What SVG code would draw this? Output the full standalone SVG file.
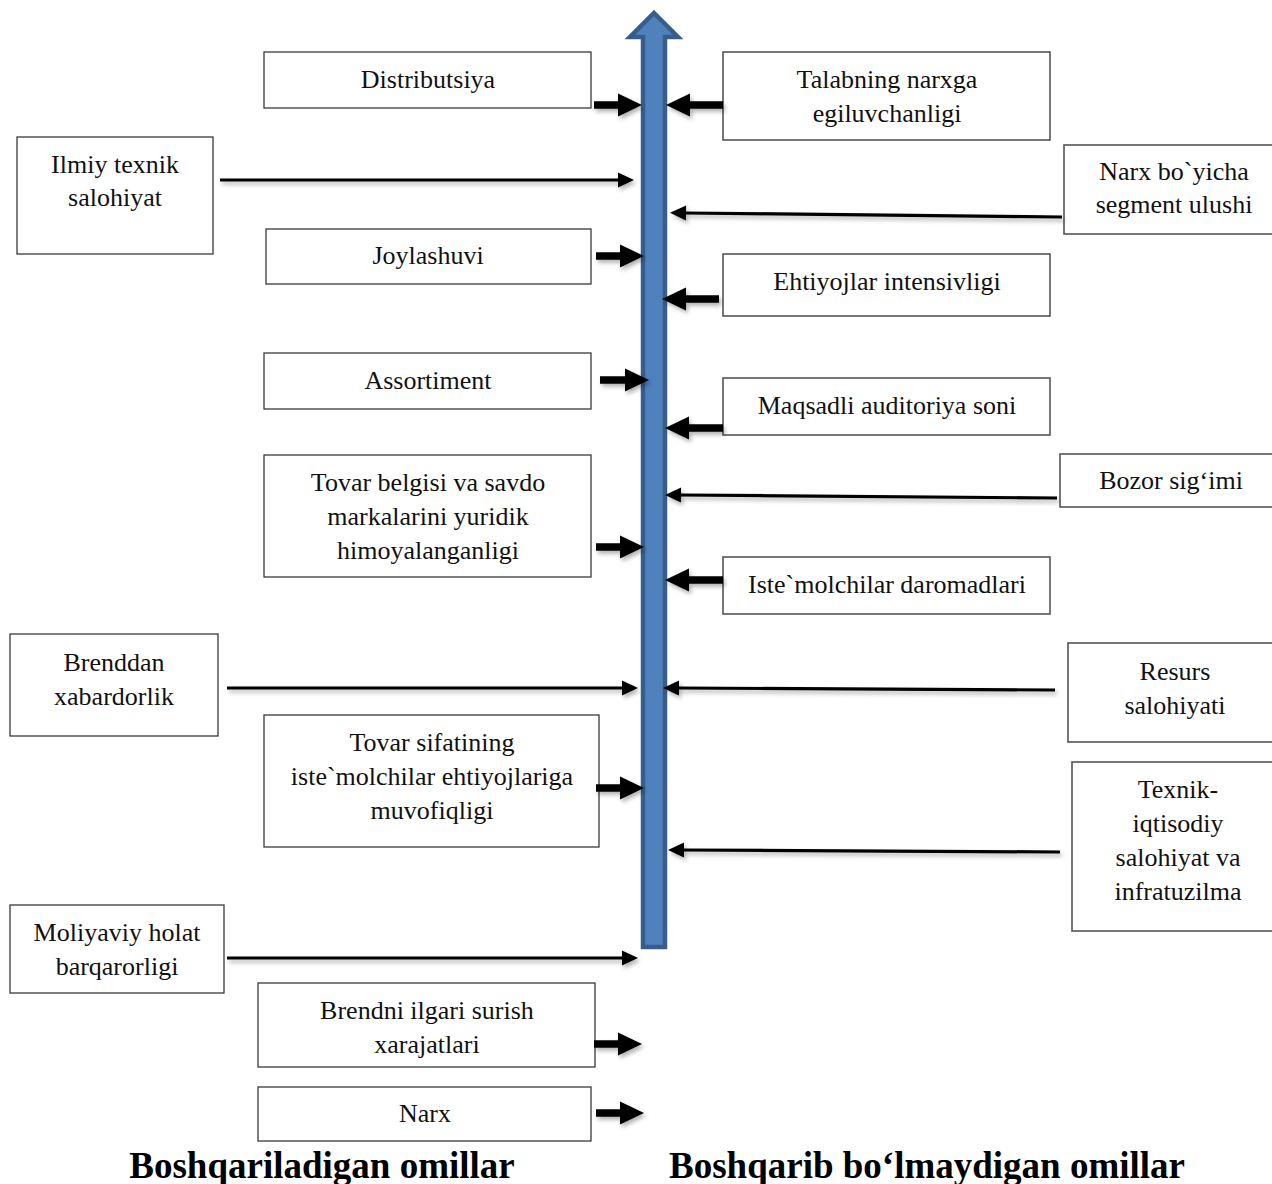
<svg xmlns="http://www.w3.org/2000/svg" width="1272" height="1184" viewBox="0 0 1272 1184">
  <style>
    .box { fill: #ffffff; stroke: #3a3a3a; stroke-width: 1.3; }
    .boxr { fill: #ffffff; stroke: #555555; stroke-width: 1.6; }
    .lbl { font-family: "Liberation Serif", "Times New Roman", serif; font-size: 26px; fill: #111111; text-anchor: middle; }
    .title { font-family: "Liberation Serif", "Times New Roman", serif; font-size: 37px; font-weight: bold; fill: #000000; text-anchor: middle; }
    .thick { stroke: #000000; stroke-width: 7.5; fill: none; marker-end: url(#headThick); }
    .thin { stroke: #000000; stroke-width: 3.2; fill: none; marker-end: url(#headThin); }
  </style>
  <defs>
    <marker id="headThick" markerUnits="userSpaceOnUse" markerWidth="26" markerHeight="24" refX="0" refY="0" orient="auto" overflow="visible">
      <path d="M-1,-11.5 L23,0 L-1,11.5 Z" fill="#000000"/>
    </marker>
    <marker id="headThin" markerUnits="userSpaceOnUse" markerWidth="18" markerHeight="16" refX="0" refY="0" orient="auto" overflow="visible">
      <path d="M-1,-7.5 L15,0 L-1,7.5 Z" fill="#000000"/>
    </marker>
    <filter id="shadow" x="-10%" y="-50%" width="120%" height="200%">
      <feDropShadow dx="2" dy="3" stdDeviation="2" flood-color="#000000" flood-opacity="0.3"/>
    </filter>
  </defs>

  <rect width="1272" height="1184" fill="#ffffff"/>

  <!-- central axis arrow -->
  <g id="axis">
    <polygon points="654,13 678,37 665,37 665,947 643,947 643,37 630,37" fill="#4F81BD" stroke="#385D8A" stroke-width="4.5" stroke-linejoin="miter"/>
  </g>

  <!-- controllable factors (left) -->
  <g id="n-distributsiya">
    <rect class="box" x="264" y="52" width="327" height="56"/>
    <text class="lbl" x="428" y="88">Distributsiya</text>
  </g>
  <g id="n-ilmiy">
    <rect class="box" x="17" y="137" width="196" height="117"/>
    <text class="lbl" x="115" y="173">Ilmiy texnik</text>
    <text class="lbl" x="115" y="206">salohiyat</text>
  </g>
  <g id="n-joylashuvi">
    <rect class="box" x="266" y="229" width="325" height="55"/>
    <text class="lbl" x="428" y="264">Joylashuvi</text>
  </g>
  <g id="n-assortiment">
    <rect class="box" x="264" y="353" width="327" height="56"/>
    <text class="lbl" x="428" y="389">Assortiment</text>
  </g>
  <g id="n-tovar-belgisi">
    <rect class="box" x="264" y="455" width="327" height="122"/>
    <text class="lbl" x="428" y="491">Tovar belgisi va savdo</text>
    <text class="lbl" x="428" y="525">markalarini yuridik</text>
    <text class="lbl" x="428" y="559">himoyalanganligi</text>
  </g>
  <g id="n-brenddan">
    <rect class="box" x="10" y="634" width="208" height="102"/>
    <text class="lbl" x="114" y="671">Brenddan</text>
    <text class="lbl" x="114" y="705">xabardorlik</text>
  </g>
  <g id="n-tovar-sifati">
    <rect class="box" x="264" y="715" width="335" height="132"/>
    <text class="lbl" x="432" y="751">Tovar sifatining</text>
    <text class="lbl" x="432" y="785">iste`molchilar ehtiyojlariga</text>
    <text class="lbl" x="432" y="819">muvofiqligi</text>
  </g>
  <g id="n-moliyaviy">
    <rect class="box" x="10" y="905" width="214" height="88"/>
    <text class="lbl" x="117" y="941">Moliyaviy holat</text>
    <text class="lbl" x="117" y="975">barqarorligi</text>
  </g>
  <g id="n-brendni">
    <rect class="box" x="258" y="983" width="337" height="84"/>
    <text class="lbl" x="427" y="1019">Brendni ilgari surish</text>
    <text class="lbl" x="427" y="1053">xarajatlari</text>
  </g>
  <g id="n-narx">
    <rect class="box" x="258" y="1087" width="333" height="54"/>
    <text class="lbl" x="425" y="1122">Narx</text>
  </g>

  <!-- uncontrollable factors (right) -->
  <g id="n-talabning">
    <rect class="boxr" x="723" y="52" width="327" height="88"/>
    <text class="lbl" x="887" y="88">Talabning narxga</text>
    <text class="lbl" x="887" y="122">egiluvchanligi</text>
  </g>
  <g id="n-narx-segment">
    <rect class="boxr" x="1064" y="145" width="212" height="89"/>
    <text class="lbl" x="1174" y="180">Narx bo`yicha</text>
    <text class="lbl" x="1174" y="213">segment ulushi</text>
  </g>
  <g id="n-ehtiyojlar">
    <rect class="boxr" x="723" y="254" width="327" height="62"/>
    <text class="lbl" x="887" y="290">Ehtiyojlar intensivligi</text>
  </g>
  <g id="n-maqsadli">
    <rect class="boxr" x="723" y="378" width="327" height="57"/>
    <text class="lbl" x="887" y="414">Maqsadli auditoriya soni</text>
  </g>
  <g id="n-bozor">
    <rect class="boxr" x="1060" y="454" width="216" height="53"/>
    <text class="lbl" x="1171" y="489">Bozor sig‘imi</text>
  </g>
  <g id="n-istemolchilar">
    <rect class="boxr" x="723" y="557" width="327" height="57"/>
    <text class="lbl" x="887" y="593">Iste`molchilar daromadlari</text>
  </g>
  <g id="n-resurs">
    <rect class="boxr" x="1068" y="643" width="208" height="99"/>
    <text class="lbl" x="1175" y="680">Resurs</text>
    <text class="lbl" x="1175" y="714">salohiyati</text>
  </g>
  <g id="n-texnik">
    <rect class="boxr" x="1072" y="762" width="204" height="169"/>
    <text class="lbl" x="1178" y="798">Texnik-</text>
    <text class="lbl" x="1178" y="832">iqtisodiy</text>
    <text class="lbl" x="1178" y="866">salohiyat va</text>
    <text class="lbl" x="1178" y="900">infratuzilma</text>
  </g>

  <!-- connectors -->
  <g id="connectors" filter="url(#shadow)">
    <!-- left side, pointing right -->
    <line class="thick" x1="594" y1="105" x2="619" y2="105"/>
    <line class="thin" x1="220" y1="180" x2="619" y2="180"/>
    <line class="thick" x1="596" y1="256" x2="621" y2="256"/>
    <line class="thick" x1="600" y1="380" x2="626" y2="380"/>
    <line class="thick" x1="596" y1="547" x2="621" y2="547"/>
    <line class="thin" x1="227" y1="688" x2="623" y2="688"/>
    <line class="thick" x1="596" y1="788" x2="621" y2="788"/>
    <line class="thin" x1="227" y1="958" x2="623" y2="958"/>
    <line class="thick" x1="594" y1="1044" x2="619" y2="1044"/>
    <line class="thick" x1="596" y1="1113" x2="621" y2="1113"/>
    <!-- right side, pointing left -->
    <line class="thick" x1="723" y1="105" x2="689" y2="105"/>
    <line class="thin" x1="1062" y1="217" x2="685" y2="213"/>
    <line class="thick" x1="719" y1="299" x2="685" y2="299"/>
    <line class="thick" x1="723" y1="428" x2="688" y2="428"/>
    <line class="thin" x1="1057" y1="498" x2="680" y2="495"/>
    <line class="thick" x1="723" y1="580" x2="688" y2="580"/>
    <line class="thin" x1="1055" y1="690" x2="678" y2="688"/>
    <line class="thin" x1="1060" y1="852" x2="683" y2="850"/>
  </g>

  <!-- group captions -->
  <text class="title" x="322" y="1178">Boshqariladigan omillar</text>
  <text class="title" x="927" y="1178">Boshqarib bo‘lmaydigan omillar</text>
</svg>
